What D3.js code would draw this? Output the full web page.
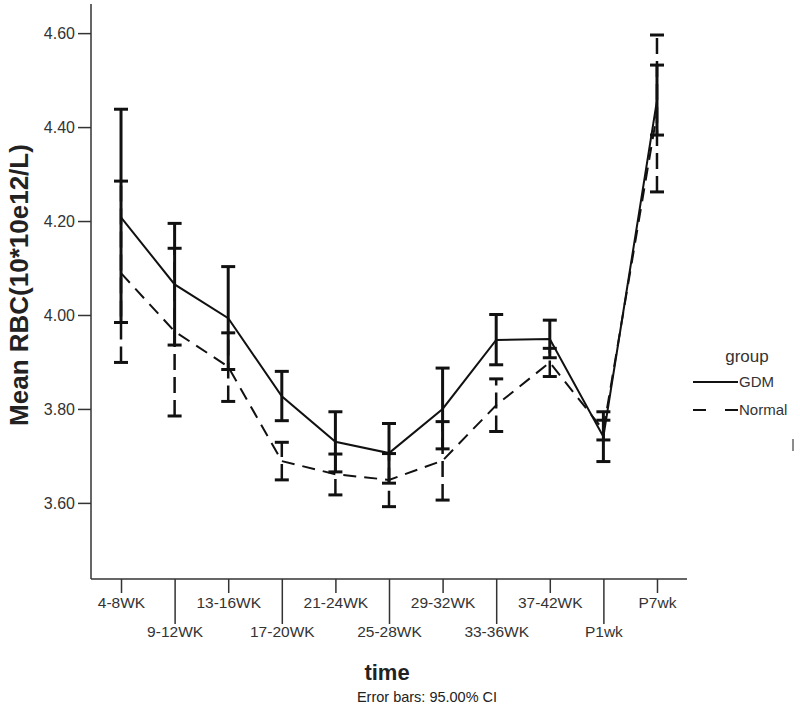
<!DOCTYPE html>
<html>
<head>
<meta charset="utf-8">
<script src="https://cdn.jsdelivr.net/npm/d3@7"></script>
<style>
  html, body { margin: 0; padding: 0; background: #fff; }
  svg { display: block; font-family: "Liberation Sans", Arial, sans-serif; }
</style>
</head>
<body>
<svg id="chart" width="800" height="712"></svg>
<script>
// ---- data ----
const categories = ["4-8WK","9-12WK","13-16WK","17-20WK","21-24WK","25-28WK","29-32WK","33-36WK","37-42WK","P1wk","P7wk"];
const gdmMean   = [4.208, 4.065, 3.993, 3.827, 3.730, 3.706, 3.800, 3.947, 3.949, 3.741, 4.457];
const gdmLow    = [3.984, 3.936, 3.884, 3.775, 3.666, 3.642, 3.715, 3.894, 3.909, 3.688, 4.383];
const gdmHigh   = [4.438, 4.195, 4.103, 3.880, 3.794, 3.769, 3.887, 4.001, 3.989, 3.794, 4.532];
const normalMean = [4.089, 3.965, 3.890, 3.689, 3.661, 3.649, 3.690, 3.808, 3.899, 3.755, 4.429];
const normalLow  = [3.899, 3.785, 3.816, 3.649, 3.617, 3.592, 3.606, 3.752, 3.869, 3.734, 4.262];
const normalHigh = [4.285, 4.142, 3.962, 3.729, 3.704, 3.705, 3.773, 3.864, 3.929, 3.776, 4.596];
const yTicks = [3.60, 3.80, 4.00, 4.20, 4.40, 4.60];
const groups = ["GDM", "Normal"];

const svg = d3.select("#chart");
const plotL = 91, plotR = 687, plotT = 4, plotB = 579;

const x = d3.scalePoint().domain(categories).range([plotL, plotR]).padding(0.56);
const y = d3.scaleLinear().domain([3.438, 4.662]).range([plotB, plotT]);

const axisColor = "#333";
const fontFam = "'Liberation Sans', Arial, sans-serif";

// y axis
const yAxis = svg.append("g").attr("transform", `translate(${plotL},0)`)
  .call(d3.axisLeft(y).tickValues(yTicks).tickFormat(d3.format(".2f")).tickSize(13).tickPadding(3).tickSizeOuter(0));
yAxis.select(".domain").remove();
yAxis.selectAll(".tick line").attr("stroke", axisColor).attr("stroke-width", 1.5);
yAxis.selectAll(".tick text").attr("font-size", 16).attr("fill", "#333").attr("font-family", fontFam);
svg.append("line").attr("x1", plotL).attr("x2", plotL).attr("y1", plotT).attr("y2", plotB)
  .attr("stroke", axisColor).attr("stroke-width", 1.5);

// x axis
const xAxis = svg.append("g").attr("transform", `translate(0,${plotB})`)
  .call(d3.axisBottom(x).tickSizeOuter(0));
xAxis.select(".domain").remove();
xAxis.selectAll(".tick line")
  .attr("y2", (d, i) => i % 2 === 0 ? 14 : 45)
  .attr("stroke", axisColor).attr("stroke-width", 1.5);
xAxis.selectAll(".tick text")
  .attr("y", (d, i) => i % 2 === 0 ? 29 : 58)
  .attr("dy", "0")
  .attr("font-size", 15.5).attr("fill", "#333").attr("font-family", fontFam);
svg.append("line").attr("x1", plotL).attr("x2", plotR).attr("y1", plotB).attr("y2", plotB)
  .attr("stroke", axisColor).attr("stroke-width", 1.5);

// axis titles
svg.append("text").attr("transform", "translate(28,285) rotate(-90)")
  .attr("text-anchor", "middle").attr("font-size", 26).attr("font-weight", "bold")
  .attr("fill", "#222").text("Mean RBC(10*10e12/L)");
svg.append("text").attr("x", 387).attr("y", 680).attr("text-anchor", "middle")
  .attr("font-size", 22).attr("font-weight", "bold").attr("fill", "#222").text("time");
svg.append("text").attr("x", 427).attr("y", 702).attr("text-anchor", "middle")
  .attr("font-size", 14.5).attr("fill", "#222").text("Error bars: 95.00% CI");

// series
const series = [
  {name: "Normal", mean: normalMean, low: normalLow, high: normalHigh, dash: "13,8", barDash: "16,7", barW: 2.5},
  {name: "GDM", mean: gdmMean, low: gdmLow, high: gdmHigh, dash: null, barDash: null, barW: 3}
];
const line = d3.line().x((d, i) => x(categories[i])).y(d => y(d));
const capW = 7;

series.forEach(s => {
  const g = svg.append("g");
  categories.forEach((c, i) => {
    const cx = x(c);
    g.append("line").attr("x1", cx).attr("x2", cx).attr("y1", y(s.low[i])).attr("y2", y(s.high[i]))
      .attr("stroke", "#111").attr("stroke-width", s.barW)
      .attr("stroke-dasharray", s.barDash);
    [s.low[i], s.high[i]].forEach(v => {
      g.append("line").attr("x1", cx - capW).attr("x2", cx + capW).attr("y1", y(v)).attr("y2", y(v))
        .attr("stroke", "#111").attr("stroke-width", 3);
    });
  });
  g.append("path").datum(s.mean).attr("d", line).attr("fill", "none")
    .attr("stroke", "#111").attr("stroke-width", 2).attr("stroke-dasharray", s.dash);
});

// legend
const lg = svg.append("g");
lg.append("text").attr("x", 747).attr("y", 362).attr("text-anchor", "middle")
  .attr("font-size", 17).attr("fill", "#333").text("group");
lg.append("line").attr("x1", 693).attr("x2", 738).attr("y1", 382).attr("y2", 382)
  .attr("stroke", "#111").attr("stroke-width", 2);
lg.append("text").attr("x", 739).attr("y", 387).attr("font-size", 15).attr("fill", "#333").text(groups[0]);
lg.append("line").attr("x1", 693).attr("x2", 738).attr("y1", 410).attr("y2", 410)
  .attr("stroke", "#111").attr("stroke-width", 2).attr("stroke-dasharray", "13,19");
lg.append("text").attr("x", 739).attr("y", 415).attr("font-size", 15).attr("fill", "#333").text(groups[1]);
lg.append("line").attr("x1", 793).attr("x2", 793).attr("y1", 439).attr("y2", 451)
  .attr("stroke", "#666").attr("stroke-width", 1.5);
</script>
</body>
</html>
